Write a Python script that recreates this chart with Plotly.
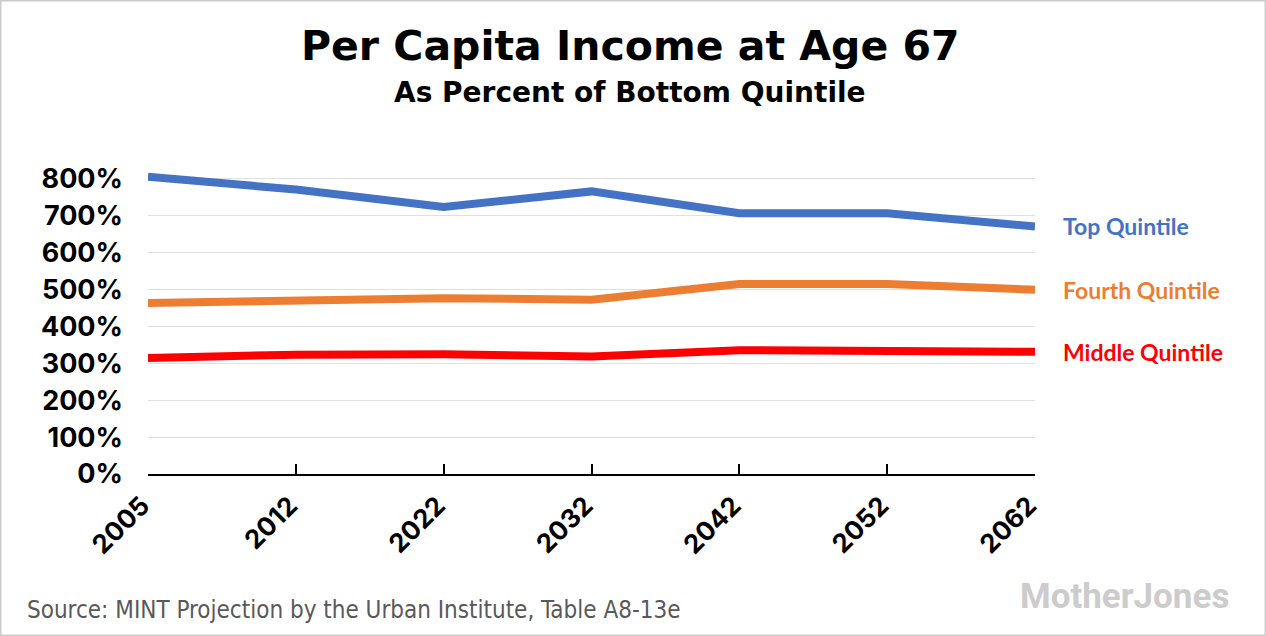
import plotly.graph_objects as go

years = ["2005", "2012", "2022", "2032", "2042", "2052", "2062"]
top_quintile = [805, 770, 723, 765, 706, 706, 670]
fourth_quintile = [463, 469, 476, 472, 514, 514, 499]
middle_quintile = [314, 323, 324, 318, 335, 335, 331]

series = [
    ("Top Quintile", top_quintile, "#4472C4"),
    ("Fourth Quintile", fourth_quintile, "#ED7D31"),
    ("Middle Quintile", middle_quintile, "#FF0000"),
]
y_ticks = [0, 100, 200, 300, 400, 500, 600, 700, 800]
y_ticktext = [f"{v}%" for v in y_ticks]

W, H = 1266, 636
ML, MR, MT, MB = 148, 231, 160, 162
PW, PH = W - ML - MR, H - MT - MB


def px_x(x):
    return (x - ML) / PW


def px_y(y):
    return (H - MB - y) / PH


fig = go.Figure()
for name, vals, color in series:
    fig.add_trace(go.Scatter(
        x=years, y=vals, mode="lines", name=name,
        line=dict(color=color, width=8),
        hoverinfo="x+y",
    ))
    fig.add_annotation(
        x=1.0, xref="paper", y=vals[-1], yref="y",
        xanchor="left", xshift=26, yshift=0,
        text=name, showarrow=False,
        font=dict(family="Lato", size=23, color=color, weight="bold"),
    )

fig.add_annotation(
    x=px_x(630), xref="paper", y=px_y(46), yref="paper",
    text="Per Capita Income at Age 67", showarrow=False, xanchor="center", yanchor="middle",
    font=dict(family="DejaVu Sans", size=41, color="#000000", weight="bold"),
)
fig.add_annotation(
    x=px_x(630), xref="paper", y=px_y(93), yref="paper",
    text="As Percent of Bottom Quintile", showarrow=False, xanchor="center", yanchor="middle",
    font=dict(family="DejaVu Sans", size=28, color="#000000", weight="bold"),
)
fig.add_annotation(
    x=px_x(25), xref="paper", y=px_y(610), yref="paper",
    text="Source: MINT Projection by the Urban Institute, Table A8-13e", showarrow=False,
    xanchor="left", yanchor="middle",
    font=dict(family="DejaVu Sans Condensed", size=24, color="#595959"),
)
fig.add_annotation(
    x=px_x(1231), xref="paper", y=px_y(596), yref="paper",
    text="MotherJones", showarrow=False, xanchor="right", yanchor="middle",
    font=dict(family="Roboto", size=35, color="#CCCCCC", weight="bold"),
)

fig.add_shape(
    type="rect", xref="paper", yref="paper",
    x0=px_x(0.75), x1=px_x(W - 0.75),
    y0=px_y(H - 0.75), y1=px_y(0.75),
    line=dict(color="#CCCCCC", width=1.5), fillcolor="rgba(0,0,0,0)", layer="below",
)

fig.update_layout(
    width=W, height=H,
    margin=dict(l=ML, r=MR, t=MT, b=MB, pad=0),
    paper_bgcolor="white", plot_bgcolor="white",
    showlegend=False,
    xaxis=dict(
        type="category", range=[0, 6],
        showgrid=False, zeroline=False,
        showline=True, linecolor="#000000", linewidth=2,
        ticks="inside", ticklen=10, tickwidth=1.5, tickcolor="#000000",
        tickangle=-45,
        tickfont=dict(family="Inter", size=26, color="#000000", weight="bold"),
        ticklabelstandoff=4,
        ticklabelshift=-6,
    ),
    yaxis=dict(
        range=[0, 850],
        tickvals=y_ticks, ticktext=y_ticktext,
        showgrid=True, gridcolor="#E0E0E0", gridwidth=1,
        zeroline=False, showline=False, ticks="",
        tickfont=dict(family="Inter", size=27, color="#000000", weight="bold"),
        ticklabelstandoff=24,
    ),
)

fig.write_html(
    "out.html",
    config={"displayModeBar": False},
    post_script="document.body.style.margin='0';document.body.style.overflow='hidden';",
)
